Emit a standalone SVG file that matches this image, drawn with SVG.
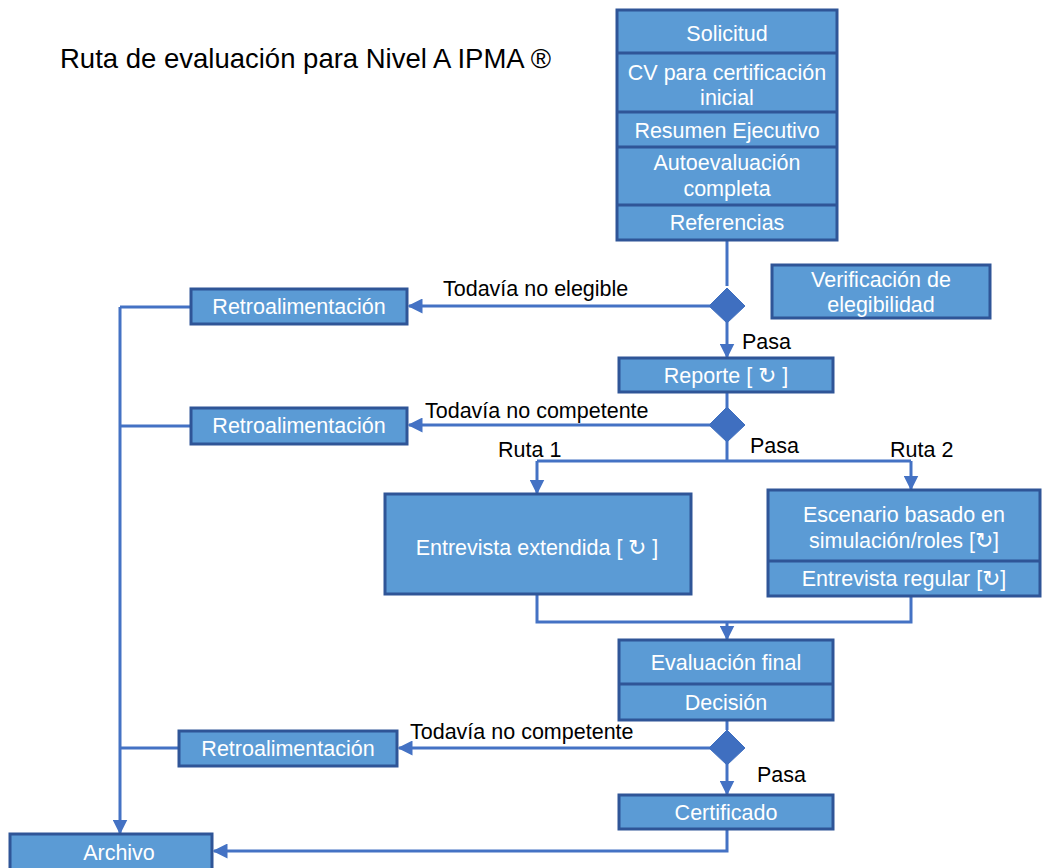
<svg xmlns="http://www.w3.org/2000/svg" width="1045" height="868" viewBox="0 0 1045 868">
<defs>
<style>
.box{fill:#5b9bd5;stroke:#2f5597;stroke-width:3}
.div{stroke:#2f5597;stroke-width:3}
.t{font-family:"Liberation Sans",Arial,sans-serif;font-size:21.5px;fill:#ffffff;text-anchor:middle}
.l{font-family:"Liberation Sans",Arial,sans-serif;font-size:21.5px;fill:#000000}
.c{fill:none;stroke:#4472c4;stroke-width:3}
.ca{fill:none;stroke:#4472c4;stroke-width:3;marker-end:url(#ah)}
.dm{fill:#3f6fc0;stroke:#3f6fc0;stroke-width:1}
</style>
<marker id="ah" viewBox="0 0 10 10" refX="9" refY="5" markerWidth="5" markerHeight="5" orient="auto" markerUnits="strokeWidth">
<path d="M0,0 L10,5 L0,10 z" fill="#4472c4"/>
</marker>
</defs>
<rect width="1045" height="868" fill="#ffffff"/>
<text x="60" y="68" font-family="Liberation Sans,Arial,sans-serif" font-size="27.5" fill="#000">Ruta de evaluación para Nivel A IPMA ®</text>

<g id="connectors">
<path class="c" d="M727,240 V286"/>
<path class="ca" d="M710,306 H409"/>
<path class="ca" d="M727,320 V357"/>
<path class="c" d="M727,392 V408"/>
<path class="ca" d="M710,425 H409"/>
<path class="c" d="M727,440 V461 M537,461 H911"/>
<path class="ca" d="M537,461 V493"/>
<path class="ca" d="M911,461 V489"/>
<path class="c" d="M537,594 V622 H911 V596"/>
<path class="ca" d="M727,622 V639"/>
<path class="c" d="M727,720 V730"/>
<path class="ca" d="M710,748 H399"/>
<path class="ca" d="M727,763 V794"/>
<path class="ca" d="M727,829 V851 H214"/>
<path class="c" d="M191,307 H120 M191,426 H120 M179,748 H120"/>
<path class="ca" d="M120,307 V833"/>
</g>

<g id="diamonds">
<path class="dm" d="M727,288 L745,306 L727,323 L709,306 Z"/>
<path class="dm" d="M727,407 L745,425 L727,442 L709,425 Z"/>
<path class="dm" d="M727,730 L745,748 L727,765 L709,748 Z"/>
</g>

<g id="labels">
<text class="l" x="443" y="296">Todavía no elegible</text>
<text class="l" x="742" y="349">Pasa</text>
<text class="l" x="425" y="418">Todavía no competente</text>
<text class="l" x="750" y="453">Pasa</text>
<text class="l" x="498" y="457">Ruta 1</text>
<text class="l" x="890" y="457">Ruta 2</text>
<text class="l" x="410" y="739">Todavía no competente</text>
<text class="l" x="757" y="782">Pasa</text>
</g>

<g id="solicitud-stack">
<rect class="box" x="617" y="10" width="220" height="230"/>
<line class="div" x1="617" y1="53" x2="837" y2="53"/>
<line class="div" x1="617" y1="112" x2="837" y2="112"/>
<line class="div" x1="617" y1="147" x2="837" y2="147"/>
<line class="div" x1="617" y1="205" x2="837" y2="205"/>
<text class="t" x="727" y="41">Solicitud</text>
<text class="t" x="727" y="80">CV para certificación</text>
<text class="t" x="727" y="105">inicial</text>
<text class="t" x="727" y="138">Resumen Ejecutivo</text>
<text class="t" x="727" y="170">Autoevaluación</text>
<text class="t" x="727" y="196">completa</text>
<text class="t" x="727" y="230">Referencias</text>
</g>

<g id="verificacion">
<rect class="box" x="772" y="265" width="218" height="53"/>
<text class="t" x="881" y="287">Verificación de</text>
<text class="t" x="881" y="312">elegibilidad</text>
</g>

<g id="retro1">
<rect class="box" x="191" y="289" width="216" height="35"/>
<text class="t" x="299" y="314">Retroalimentación</text>
</g>

<g id="reporte">
<rect class="box" x="619" y="358" width="214" height="34"/>
<text class="t" x="726" y="383">Reporte [ ↻ ]</text>
</g>

<g id="retro2">
<rect class="box" x="191" y="408" width="216" height="36"/>
<text class="t" x="299" y="433">Retroalimentación</text>
</g>

<g id="entrevista-extendida">
<rect class="box" x="385" y="494" width="306" height="100"/>
<text class="t" x="537" y="555">Entrevista extendida [ ↻ ]</text>
</g>

<g id="ruta2-stack">
<rect class="box" x="768" y="490" width="272" height="106"/>
<line class="div" x1="768" y1="561" x2="1040" y2="561"/>
<text class="t" x="904" y="522">Escenario basado en</text>
<text class="t" x="904" y="548">simulación/roles [↻]</text>
<text class="t" x="904" y="586">Entrevista regular [↻]</text>
</g>

<g id="evaluacion-final">
<rect class="box" x="619" y="640" width="214" height="80"/>
<line class="div" x1="619" y1="684" x2="833" y2="684"/>
<text class="t" x="726" y="670">Evaluación final</text>
<text class="t" x="726" y="710">Decisión</text>
</g>

<g id="retro3">
<rect class="box" x="179" y="731" width="218" height="35"/>
<text class="t" x="288" y="756">Retroalimentación</text>
</g>

<g id="certificado">
<rect class="box" x="619" y="795" width="214" height="34"/>
<text class="t" x="726" y="820">Certificado</text>
</g>

<g id="archivo">
<rect class="box" x="10" y="834" width="202" height="36"/>
<text class="t" x="119" y="860">Archivo</text>
</g>
</svg>
